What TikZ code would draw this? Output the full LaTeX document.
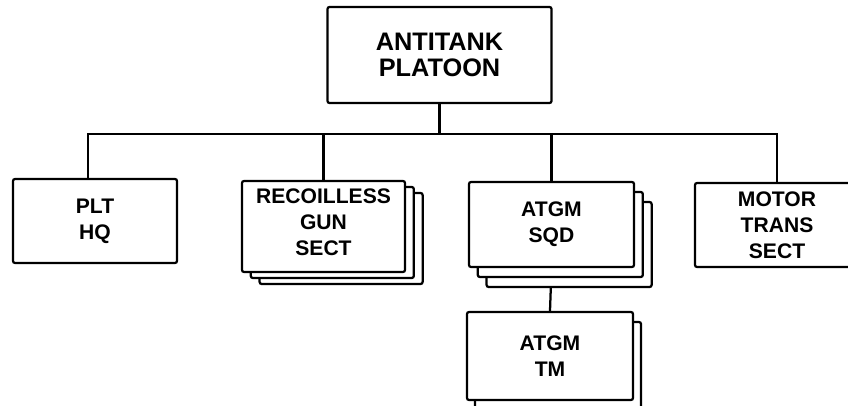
\documentclass[tikz,border=0pt]{standalone}
\usepackage{fontspec}
\setmainfont{Liberation Sans}
\usetikzlibrary{positioning, shadows, backgrounds}

% extra depth below the last line, lifts the text in its box
\newcommand{\lift}[1]{\rule[-#1]{0pt}{#1}}

\begin{document}
\begin{tikzpicture}[
      x=0.025cm, y=-0.025cm,
      unit/.style={rectangle, draw=black, line width=1.6pt, fill=white,
                   rounded corners=1.5pt, align=center, inner sep=0pt,
                   font=\bfseries\fontsize{15}{18.5}\selectfont,
                   minimum width=4.1cm, minimum height=2.1cm},
      stack/.style 2 args={unit, double copy shadow={shadow xshift=#1,
                   shadow yshift=#2, line width=1.6pt}},
      link/.style={line width=1.6pt}
    ]
    \useasboundingbox (0,0) rectangle (848,406);
    \clip (0,0) rectangle (848,406);

    \node[unit, minimum width=5.6cm, minimum height=2.4cm,
          font=\bfseries\fontsize{18}{18}\selectfont] (top) at (439.5,55) {ANTITANK\\PLATOON};

    \node[unit] (hq) at (95,221) {PLT\\HQ};
    \node[stack={0.22cm}{-0.15cm}, minimum width=4.075cm, minimum height=2.275cm]
          (gun) at (323.5,226.5) {RECOILLESS\\GUN\\SECT\lift{0.2cm}};
    \node[stack={0.22cm}{-0.25cm}, minimum width=4.125cm, minimum height=2.125cm]
          (sqd) at (551.5,224.5) {ATGM\\SQD};
    \node[unit] (trans) at (777,225) {MOTOR\\TRANS\\SECT};
    \node[unit, copy shadow={shadow xshift=0.2cm, shadow yshift=-0.25cm, line width=1.6pt},
          minimum width=4.15cm, minimum height=2.2cm] (tm) at (550,356) {ATGM\\TM};

    \coordinate (bus) at (0,134);
    \begin{scope}[on background layer]
      \draw[link] (top.south) -- (top.south |- bus);
      \draw[link] ([xshift=-0.175cm]hq.north) |- (trans.north |- bus) -- (trans.north);
      \draw[link] (gun.north) -- (gun.north |- bus);
      \draw[link] (sqd.north) -- (sqd.north |- bus);
      \draw[link] (sqd.south) -- (tm.north);
    \end{scope}
  \end{tikzpicture}
\end{document}
